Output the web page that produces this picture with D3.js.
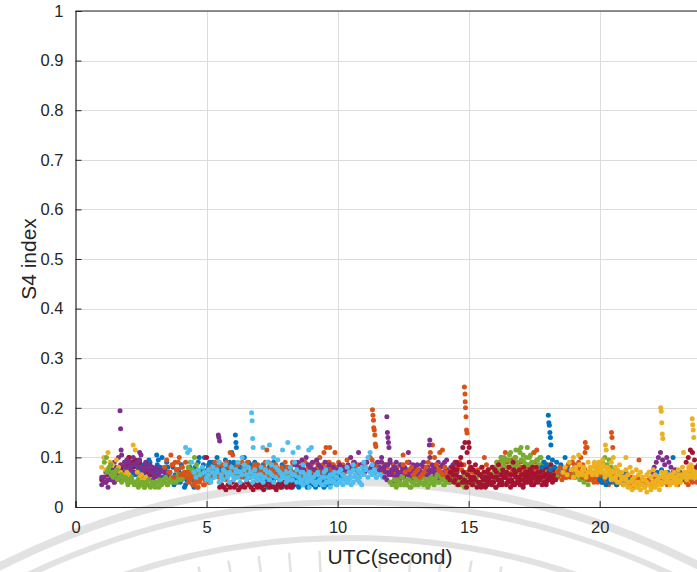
<!DOCTYPE html>
<html>
<head>
<meta charset="utf-8">
<script src="https://cdn.jsdelivr.net/npm/d3@7"></script>
<style>
  body { margin: 0; background: #fff; }
  svg { display: block; }
  text { font-family: "Liberation Sans", Arial, Helvetica, sans-serif; fill: #262626; }
</style>
</head>
<body>
<svg id="chart" width="697" height="572"></svg>
<script>
// S4 scintillation index per satellite, sampled every sampleStep seconds from its start time
const palette = ["#0072BD", "#D95319", "#EDB120", "#7E2F8E", "#77AC30", "#4DBEEE", "#A2142F"];
const xTicks = [0, 5, 10, 15, 20];
const yTicks = [0, 0.1, 0.2, 0.3, 0.4, 0.5, 0.6, 0.7, 0.8, 0.9, 1];
const yTickLabels = ["0", "0.1", "0.2", "0.3", "0.4", "0.5", "0.6", "0.7", "0.8", "0.9", "1"];
const sampleStep = 0.08;

const blueLow = [.045,.04,.05,.045,.04,.05,.045,.055,.04,.045,.05,.04,.045,.05,.055,.045,.04,.05,.045,.04,.05,.045,.05,.04,.045,.055,.045,.04,.05,.045,.05,.04,.045,.05,.045,.055,.05,.045,.05,.055];
const redLow = [.04,.045,.04,.035,.045,.04,.05,.04,.045,.035,.04,.045,.04,.05,.045,.04,.035,.045,.04,.045,.04,.035,.045,.05,.04,.045,.04,.035,.045,.04,.045,.05,.04,.045,.04,.045];
const cyanLow = [.05,.045,.055,.05,.04,.06,.05,.045,.055,.05,.06,.045,.05,.055,.04,.05,.06,.045,.055,.05,.045,.06,.05,.055,.045,.05,.06,.055,.05,.045];
const blueA = [.07,.09,.075,.1,.085,.065,.09,.08,.095,.07,.085,.06,.075,.09,.08,.065,.07,.095,.08,.06,.075,.09,.07,.055,.08,.065,.05,.07,.085,.06,.045,.065,.08,.055,.04,.07,.09,.06,.075,.1];
const blueE = [.06,.08,.07,.09,.065,.075,.085,.06,.07,.08,.095,.065,.055,.07,.085,.06,.075,.05,.065,.08,.07,.055,.045,.06,.075,.05,.065,.04,.055,.07,.06,.045,.08,.065,.1,.07,.085,.06,.075,.09];
const redA = [.055,.06,.05,.065,.055,.06,.05,.07,.065,.075,.08,.09,.085,.1,.09,.08,.095,.085,.09,.08,.075,.085,.07,.065,.075];
const purpleA = [.045,.06,.05,.04,.065,.055,.05,.06,.07,.055,.065,.08,.07,.09,.075,.1,.085,.07,.095,.08,.065,.09,.075,.085,.07,.06,.08,.065,.075,.055,.07,.06,.065];
const purpleE = [.06,.05,.07,.055,.065,.075,.09,.08,.1,.085,.07,.09,.095,.08,.075,.085,.07,.09,.08,.065,.075,.085,.06,.07,.08,.065,.075,.06,.07,.055];
const yellowA = [.08,.1,.075,.11,.09,.085,.07,.095,.08,.07,.065,.06,.07,.065,.06,.125,.115,.07,.06,.065,.055,.06];
const greenA = [.09,.1,.075,.085,.07,.065,.075,.06,.065,.055,.06,.05,.055,.06,.05,.045,.055,.05,.045,.04,.05,.045,.04,.05,.045,.05,.04,.045,.055,.05,.045,.055,.06,.05,.055,.06,.065,.055,.06,.07,.08,.09,.075,.1,.085,.07,.065,.06,.055];
const greenE = [.07,.08,.065,.06,.07,.055,.06,.05,.06,.055,.045,.05,.055,.045,.05,.04,.045,.05,.04,.045,.055,.045,.05,.04,.05,.055,.045,.05,.06,.045,.05,.055,.06,.05,.065,.055,.06,.07,.065,.075,.06,.07,.065,.06,.07];
const orangeA = [.08,.095,.07,.105,.085,.09,.075,.1,.08,.065,.09,.07,.055,.06,.045,.05,.04,.055,.06,.045,.07,.05,.065,.08];
const orangeF = [.07,.085,.06,.075,.09,.065,.08,.07,.06,.05,.065,.045,.055,.04,.05,.06,.045,.055,.07,.05,.06,.075,.065,.08,.07,.085,.06,.075,.065,.08];
const blueB = [.07,.085,.06,.09,.075,.1,.065,.08,.07,.095,.085,.075,.11,.09,.07,.085,.065,.08,.1,.075,.06,.085,.07,.09,.065,.08,.06,.075,.07,.055,.08,.065,.09,.07,.06,.075,.085,.065,.07,.06,.08,.055,.07,.065,.075,.06,.085,.07,.065,.08,.06,.055,.07,.065,.08,.06,.075,.05,.065,.07,.06,.075,.055,.065,.06];
const blueF = [.065,.08,.075,.06,.085,.07,.09,.075,.065,.08,.06,.09,.07,.085,.075,.065,.08,.07,.06,.075,.09,.065,.08,.07,.055,.075,.065,.085,.06,.07,.08,.065,.075,.06,.07,.055,.065,.08,.06,.07,.075,.06,.065,.055,.07,.06,.075,.065,.055,.07,.06,.065,.075,.06,.07,.055,.065,.06,.07,.065];
const orangeB = [.07,.06,.08,.065,.09,.075,.06,.085,.07,.055,.065,.08,.07,
  .075,.06,.085,.07,.09,.065,.08,.07,.06,.075,.085,.065,
  .07,.08,.065,.09,.075,.06,.08,.07,.085,.065,.075,.08,
  .07,.065,.08,.075,.09,.07,.085,.08,.065,.075,.09,.07,.08,
  .085,.075,.09,.08,.1,.07,.11,.12,.09,.08,.085,.075,
  .08,.09,.075,.085,.07,.095,.08,.075,.09,.08,.085,.07,
  .085,.08,.09,.075,.1,.095,.085,.08,.09,.075,.07,.085,
  .08,.07,.075,.085,.07,.08];
const orangeG = [.075,.065,.08,.07,.085,.06,.075,.09,.07,.08,.065,.075,.085,.07,.06,.08,.075,.09,.065,.07,.08,.075,.085,.06,.07,.08,.065,.09,.075,.07,.085,.08,.065,.075,.07,.09,.08,.075,.065,.085,.07,.08,.075,.09,.07,.065,.08,.085,.075,.07,.09,.08,.075,.085,.07,.08,.09,.075,.085,.08];
const purpleB = [.085,.09,.08,.095,.075,.1,.085,.08,.09,.075,.095,.085,
  .08,.07,.09,.075,.085,.065,.08,.07,.075,.085,.07,.08,
  .075,.085,.07,.08,.09,.075,.07,.085,.08,.07,.09,.075,.08,
  .085,.07,.09,.08,.1,.075,.085,.07,.09,.065,.08,.075,
  .07,.06,.08,.065,.075,.09,.07,.06,.075,.085,.065,.07,.08,
  .065,.08,.1,.075,.07,.085,.065,.08,.07,.09,.075,.065,
  .08,.07,.09,.085];
const cyanA = [.12,.11,.115,.09,.07,.06,.075,.065,.08,.07,
  .06,.075,.055,.08,.065,.07,.09,.06,.075,.085,.065,.07,.08,
  .06,.075,.09,.07,.1,.085,.065,.08,.07,.06,.075,.055,
  .065,.08,.06,.075,.09,.07,.085,.1,.08,.095,.07,.065,
  .06,.07,.055,.08,.065,.09,.075,.06,.07,.085,.065,.055,.07,
  .06,.05,.065,.07,.055,.045,.06,.075,.05,.065,.055,.07,
  .06,.05,.075,.065,.055,.08,.06,.07,.085,.065,.075,.06,
  .07,.09,.08,.1,.11,.085,.07,.06,.075];
const cyanB = [.055,.065,.05,.07,.06,.075,.05,.065,.055,.07,.06,.05,.065,
  .055,.07,.06,.05,.065,.075,.055,.06,.07,.05,.065,.06,.055,
  .065,.05,.06,.07,.055,.065,.05,.06,.075,.055,.065,.06,.05,
  .06,.07,.055,.065,.05,.06,.055,.07,.06,.05,.065,.055,.06,
  .05,.065,.055,.06,.07,.05,.06,.055,.065,.05,.06,.07,.055,
  .065,.06,.05,.07,.06,.075,.065,.055,.07,.08,.065,.075,.06,.07,.065,.075,.06,.07,.065,.06];
const purpleF = [.075,.09,.08,.07,.085,.095,.075,.08,.09,.07,.085,.075,.08,.07,.09,.075,.085,.08,.07,.075,.085,.09,.08,.075,.07,.085,.08,.075,.09,.07,.085,.08,.095,.07,.075,.085,.08,.07];
const purpleC = [.06,.055,.065,.07,.05,.06,.065,.055,.07,.06,.05,.065,.06,.07,.055,.06,.065,.05,.06,.07,.055,.065,.06,.05,.065,.055,.06,.07,.065,.055,.06,.05,.065,.06];
const greenB = [.05,.045,.055,.04,.05,.045,.06,.05,.045,.055,.04,.05,.045,.055,.05,.06,.045,.05,.04,.055,.05,.045,.06,.05,.065,.055,.045,.05,.06,.055,.07,.05,.045,.055,.06,.05,.045,.055,.05,.045];
const greenF = [.045,.055,.05,.06,.045,.05,.055,.04,.05,.06,.055,.045,.05,.06,.05,.055,.045,.06,.05,.055,.065,.05,.06,.045,.055,.06,.05,.065,.055,.06,.05,.055,.06,.065,.05,.055];
const orangeC = [.085,.07,.09,.075,.08,.065,.07,.075,.06,.065,.07,.08,.09,.11,.125,.1,.085,.075,.07,.065,.08,.07,.06,.075,.065,.07,.08,.09,.075,.085,.07,.065,.08,.07];
const orangeD = [.07,.06,.075,.065,.08,.07,.085,.075,.06,.08,.07,.09,.085,.1,.095,.11,.09,.08,.095,.075,.085,.07,.09,.08,.075,.085,.07,.08,.065,.075,.07,.06,.075,.065,.08,.07,.06,.065,.055,.07,.06,.065,.055,.06,.07,.065,.06,.075,.085,.07,.09,.1,.085,.11,.12];
const orangeH = [.08,.07,.09,.075,.085,.065,.095,.08,.07,.085,.075,.09,.08,.07,.065,.08,.075,.085,.07,.09,.08,.075,.065,.08,.07,.085,.075,.065,.08,.07,.075,.065,.08,.07,.06,.075,.065,.07,.06,.065];
const greenC = [.05,.045,.055,.04,.05,.06,.045,.055,.05,.06,.045,.05,.055,.06,.05,.065,.06,.07,
  .075,.085,.07,.09,.1,.08,.095,.11,.085,.1,.09,.115,
  .095,.105,.085,.12,.1,.09,.11,.08,.095,.1,.085,.09,
  .075,.065,.07,.06,.055,.065];
const greenG = [.08,.09,.075,.1,.085,.095,.08,.105,.09,.085,.1,.08,.11,.095,.09,.1,.085,.105,.09,.08,.095,.085,.1,.09,.08,.075,.085,.07,.08,.075];
const redB = [.07,.08,.075,.09,.085,.1,.12,.13,.11,.09,.08,.075,.085,.07,.065,.08,.07,.06,.075,.065,.08,.06,.07,.085,.065,.075,.06,.07,.08,.065,.09,.07,.06,.075,.065,.08,.07,.06,.075,.07,.065,.08,.06,.07,.075,.065,.08,.07,.085,.075];
const redC = [.06,.055,.07,.05,.065,.045,.06,.05,.055,.04,.05,.06,.045,.055,.04,.05,.045,.055,.04,.05,.06,.045,.05,.04,.055,.045,.05,.06,.045,.055,.04,.05,.045,.06,.05,.055,.045,.06,.05,.065,.055,.045,.06,.05,.055,.06,.05,.045,.055,.06,.05,.055];
const redE = [.065,.055,.075,.06,.085,.07,.05,.065,.075,.055,.06,.07,.05,.065,.06,.045,.07,.055,.065,.05,.075,.06,.045,.055,.07,.06,.05,.065,.055,.075,.06,.05,.045,.065,.055,.07,.06,.05,.08,.065,.055,.07,.06,.075,.065,.055,.07,.06,.065,.055];
const redF = [.05,.06,.045,.055,.07,.05,.04,.06,.055,.045,.065,.05,.06,.04,.055,.05,.045,.06,.07,.05,.055,.045,.065,.05,.06,.055,.04,.05,.065,.055,.045,.06,.05,.07,.055,.045,.06,.05,.065,.055];
const blueC = [.08,.09,.085,.1,.075,.095,.08,.09,.07,.085,.075,.1,.08,.07,.09,.075,.065,.08,.07,.06,.075,.065,.07,.06,.055,.065,.06,.07,.055,.05,.06,.055,.05,.06,.055,.05,.06,.055,.065,.06,.07,.06];
const greenD = [.07,.06,.075,.055,.065,.05,.06,.045,.055,.065,.06,.07,.08,.075,.09,.1,.085,.095,.08,.07,.075,.065,.07,.06];
const orangeI = [.07,.08,.065,.075,.06,.085,.07,.09,.075,.065,.08,.07,.06,.075,.065,.055,.07,.06,.065,.05,.06,.055,.065,.06,.05,.06,.055,.065,.05,.06,.055,.05,.06,.065,.055,.06,.05,.055,.06,.05];
const orangeE = [.065,.06,.07,.055,.065,.06,.05,.06,.055,.065,.05,.06,.055,.045,.06,.05,.055,.045,.05,.06,.045,.05,.055,.045,.05,.04,.05,.045,.055,.05,.045,.05,.055,.045,.05,.06,.045,.05,.055,.06,.05,.045,.055,.05,.06,.055,.045,.05,.055,.06,.05,.045,.055,.05,.06,.05,.055];
const blueG = [.055,.05,.06,.045,.055,.05,.06,.055,.045,.05,.06,.055,.05,.06,.055];
const blueD = [.07,.06,.075,.065,.055,.07,.06,.05,.065,.055,.06,.07,.055,.065,.06,.07,.075,.065,.08,.07];
const purpleD = [.07,.08,.09,.1,.11,.095,.085,.1,.09,.08,.07,.075,.065,.06];
const yellowD = [.06,.075,.065,.085,.07,.08,.065,.09,.075,.07,.085,.065,.075,.08,.07,.06,.075,.065,.055,.07,.06,.05,.065,.055,.045,.06,.05,.04,.055,.045,.05,.04,.045,.055,.04,.05,.045,.04,.05,.045,.055,.05,.045,.06,.05,.055,.045,.06,.055,.05,.065,.055,.06,.07,.055,.065,.06,.07,.065,.06];
const yellowB = [.08,.07,.09,.075,.085,.065,.08,.07,.09,.1,.08,.075,.085,.07,.06,.075,.065,.08,.07,.06,.075,.065,.07,.06,.055,.065,.07,.06,.075,.065,.055,.06,.07,.065,.055,.06,.05,.065,.07,.06,.075,.065,.08,.07,.06,.075,.085,.07,.08,.065];
const yellowC = [.07,.08,.065,.09,.075,.06,.08,.07,.085,.065,.075,.06,
  .07,.08,.065,.09,.075,.085,.07,.095,.08,.065,.075,.06,.07,
  .055,.065,.05,.06,.045,.055,.04,.05,.035,.045,.04,.05,
  .035,.045,.04,.03,.045,.035,.05,.04,.045,.035,.05,.06,.07,
  .055,.065,.05,.06,.045,.055,.05,.06,.065,.07,.08,.065,.075,.06,.07];
const redD = [.09,.1,.115,.11,.095,.08,.085];

// drawing order, start time (s) and palette index of each satellite track
const seriesValues = [blueLow, redLow, cyanLow, blueA, blueE, redA, purpleA, purpleE, yellowA, greenA, greenE,
  orangeA, orangeF, blueB, blueF, orangeB, orangeG, purpleB, cyanA, cyanB, purpleF, purpleC, greenB, greenF,
  orangeC, orangeD, orangeH, greenC, greenG, redB, redC, redE, redF,
  blueC, greenD, orangeI, orangeE, blueG, blueD, purpleD, yellowD, yellowB, yellowC, redD];
const seriesStart = [7.0, 5.5, 8.6, 1.8, 2.0, 1.0, 1.0, 1.0, 1.0, 1.1, 1.2,
  3.4, 3.6, 5.0, 5.0, 5.0, 5.2, 8.4, 4.2, 5.0, 11.6, 11.8, 12.0, 12.2,
  12.5, 15.2, 16.0, 14.6, 16.0, 14.3, 14.2, 14.4, 15.0,
  17.8, 19.0, 18.4, 19.3, 20.0, 22.2, 22.0, 19.0, 19.8, 18.6, 23.3];
const seriesColor = [0, 6, 5, 0, 0, 6, 3, 3, 2, 4, 4,
  1, 1, 0, 0, 1, 1, 3, 5, 5, 3, 3, 4, 4,
  1, 1, 1, 4, 4, 6, 6, 6, 6,
  0, 4, 1, 1, 0, 0, 3, 2, 2, 2, 6];

// bursts of strong scintillation and isolated high samples
const burstTime = [1.7, 1.72, 1.74, 1.76, 5.45, 5.47, 5.5, 6.1, 6.12, 6.14,
  6.72, 6.74, 6.76, 6.78, 7.15, 7.4, 7.9, 8.1,
  11.33, 11.35, 11.37, 11.38, 11.4, 11.42, 11.44, 11.46,
  11.88, 11.9, 11.92, 11.94, 11.96, 13.5, 13.52,
  14.84, 14.86, 14.87, 14.88, 14.9, 14.92, 14.94, 15.0, 15.02,
  18.04, 18.06, 18.08, 18.1, 18.12, 18.14, 19.45, 19.47,
  20.22, 20.25, 20.45, 20.47, 20.5,
  22.33, 22.35, 22.37, 22.39, 22.41, 23.53, 23.55, 23.57, 23.59,
  2.45, 2.5, 3.1, 3.3, 5.0, 5.9, 6.0, 7.3, 8.3, 8.5, 8.9, 9.0,
  9.7, 9.9, 10.5, 10.8, 12.5, 12.7, 13.9, 14.0, 15.6, 16.8, 17.0,
  17.5, 17.6, 19.0, 19.2, 21.0, 21.5, 22.8, 23.2];
const burstValue = [.194, .158, .115, .105, .145, .14, .133, .145, .13, .12,
  .19, .174, .138, .12, .12, .125, .115, .13,
  .196, .185, .175, .16, .155, .145, .127, .122,
  .182, .15, .14, .13, .12, .125, .135,
  .242, .228, .212, .2, .182, .155, .149, .13, .12,
  .185, .17, .165, .15, .14, .125, .13, .12,
  .125, .115, .15, .14, .12,
  .2, .193, .17, .147, .138, .178, .166, .155, .14,
  .11, .105, .105, .1, .1, .11, .105, .115, .11, .12, .115, .12,
  .12, .11, .1, .11, .105, .11, .11, .115, .1, .115, .12,
  .11, .115, .1, .105, .1, .095, .1, .11];
const burstColor = [3, 3, 3, 3, 3, 3, 3, 0, 0, 0,
  5, 5, 5, 5, 5, 5, 5, 5,
  1, 1, 1, 1, 1, 1, 1, 1,
  3, 3, 3, 3, 3, 3, 3,
  1, 1, 1, 1, 1, 1, 1, 6, 6,
  0, 0, 0, 0, 0, 0, 1, 1,
  2, 2, 1, 1, 1,
  2, 2, 2, 2, 2, 2, 2, 2, 2,
  3, 3, 0, 0, 6, 1, 1, 1, 5, 5, 5, 5,
  1, 1, 3, 3, 1, 3, 1, 1, 1, 4, 4,
  1, 1, 2, 2, 2, 1, 0, 2];

const svg = d3.select("#chart");
const plotLeft = 75.5, plotTop = 11, plotBottom = 507, plotRight = 704.5;
const x = d3.scaleLinear().domain([0, 24]).range([plotLeft, plotRight]);
const y = d3.scaleLinear().domain([0, 1]).range([plotBottom, plotTop]);

svg.append("defs").append("clipPath").attr("id", "plotClip")
  .append("rect").attr("x", plotLeft).attr("y", plotTop)
  .attr("width", plotRight - plotLeft).attr("height", plotBottom - plotTop);

// grid
const grid = svg.append("g").attr("stroke", "#dcdcdc").attr("stroke-width", 1);
grid.selectAll("line.gx").data(xTicks.slice(1)).join("line")
  .attr("x1", d => Math.round(x(d)) + 0.5).attr("x2", d => Math.round(x(d)) + 0.5)
  .attr("y1", plotTop).attr("y2", plotBottom);
grid.selectAll("line.gy").data(yTicks.slice(1)).join("line")
  .attr("y1", d => Math.round(y(d)) + 0.5).attr("y2", d => Math.round(y(d)) + 0.5)
  .attr("x1", plotLeft).attr("x2", plotRight);

// faint seal mark across the lower edge, beneath the data
const seal = svg.append("g").attr("fill", "none").attr("stroke", "#a0a0a0").attr("opacity", 0.3);
[768, 748, 712].forEach((r, i) => seal.append("circle").attr("cx", 350).attr("cy", 1250).attr("r", r)
  .attr("stroke-width", i === 0 ? 8 : 6));
d3.range(-15, 15.1, 2.5).forEach(a => {
  const rad = a * Math.PI / 180;
  seal.append("line")
    .attr("x1", 350 + 650 * Math.sin(rad)).attr("y1", 1250 - 650 * Math.cos(rad))
    .attr("x2", 350 + 700 * Math.sin(rad)).attr("y2", 1250 - 700 * Math.cos(rad))
    .attr("stroke-width", 2.5);
});

// points
const points = [];
seriesValues.forEach((vals, s) => {
  vals.forEach((v, i) => points.push({ t: seriesStart[s] + i * sampleStep, v, c: palette[seriesColor[s]] }));
});
burstTime.forEach((t, i) => points.push({ t, v: burstValue[i], c: palette[burstColor[i]] }));

svg.append("g").attr("clip-path", "url(#plotClip)")
  .selectAll("circle").data(points).join("circle")
  .attr("cx", d => x(d.t)).attr("cy", d => y(d.v)).attr("r", 2.5)
  .attr("fill", d => d.c);

// axes (ticks point inward)
const axisColor = "#262626";
const xAxis = svg.append("g").attr("transform", `translate(0,${plotBottom})`)
  .call(d3.axisBottom(x).tickValues(xTicks).tickSize(-6).tickPadding(14).tickFormat(d3.format("d")));
const yAxis = svg.append("g").attr("transform", `translate(${plotLeft},0)`)
  .call(d3.axisLeft(y).tickValues(yTicks).tickSize(-6).tickPadding(12).tickFormat((d, i) => yTickLabels[i]));
[xAxis, yAxis].forEach(g => {
  g.select(".domain").attr("stroke", axisColor).attr("stroke-width", 1.2);
  g.selectAll(".tick line").attr("stroke", axisColor);
  g.selectAll(".tick text").attr("font-size", 16.5).style("fill", axisColor)
    .attr("font-family", "'Liberation Sans', Arial, sans-serif");
});
svg.append("line").attr("x1", plotLeft).attr("x2", plotRight).attr("y1", plotTop).attr("y2", plotTop)
  .attr("stroke", axisColor).attr("stroke-width", 1.2);

// axis titles
svg.append("text").attr("x", 390).attr("y", 564).attr("text-anchor", "middle")
  .attr("font-size", 21).text("UTC(second)");
svg.append("text").attr("transform", `translate(36,${(plotTop + plotBottom) / 2}) rotate(-90)`)
  .attr("text-anchor", "middle").attr("font-size", 21).text("S4 index");
</script>
</body>
</html>
